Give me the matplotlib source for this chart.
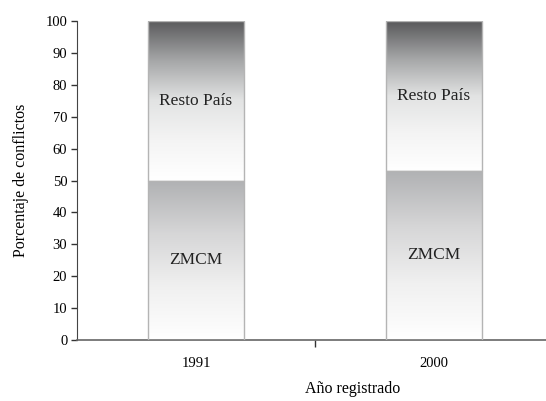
import numpy as np
import matplotlib.pyplot as plt
from matplotlib.colors import LinearSegmentedColormap

years = ['1991', '2000']
zmcm = [50, 53]
resto = [50, 47]

plt.rcParams['font.family'] = ['Liberation Serif', 'DejaVu Serif']

fig = plt.figure(figsize=(5.46, 4.01), dpi=100)
# axes spans a bit past the right edge, like the original crop
ax = fig.add_axes([77 / 546, 1 - 340 / 401, 476 / 546, 319 / 401])

x = np.arange(len(years))
bw = 0.40
b1 = ax.bar(x, zmcm, width=bw, facecolor='none', edgecolor='#b4b4b4', linewidth=1, zorder=3)
b2 = ax.bar(x, resto, width=bw, bottom=zmcm, facecolor='none', edgecolor='#b4b4b4', linewidth=1, zorder=3)

cm_low = LinearSegmentedColormap.from_list('low', ['#ffffff', '#f0f0f0', '#d6d6d7', '#b0b1b3'])
cm_high = LinearSegmentedColormap.from_list('high', ['#ffffff', '#f4f4f4', '#e2e3e3', '#a5a6a7', '#59595b'])
grad = np.linspace(0, 1, 256).reshape(-1, 1)

for bars, cmap in [(b1, cm_low), (b2, cm_high)]:
    for p in bars:
        x0, y0 = p.get_x(), p.get_y()
        w, h = p.get_width(), p.get_height()
        im = ax.imshow(grad, cmap=cmap, aspect='auto', origin='lower',
                       extent=[x0, x0 + w, y0, y0 + h], zorder=2)
        im.set_clip_path(p)

for i in range(len(years)):
    ax.text(x[i], zmcm[i] / 2, 'ZMCM', ha='center', va='center', fontsize=12.5, color='#222222', zorder=4)
    ax.text(x[i], zmcm[i] + resto[i] / 2, 'Resto País', ha='center', va='center', fontsize=12.5,
            color='#222222', zorder=4)

ax.set_xlim(-0.5, 1.5)
ax.set_ylim(0, 100)
ax.set_yticks(range(0, 101, 10))
ax.set_xticks(x)
ax.set_xticklabels(years, fontsize=10.5)
ax.set_xticks([0.5], minor=True)
ax.tick_params(axis='x', which='major', length=0, pad=12)
ax.tick_params(axis='x', which='minor', length=5, width=1, color='#333333')
ax.tick_params(axis='y', length=4, width=1, color='#333333', labelsize=10.5, pad=3)

for s in ['top', 'right']:
    ax.spines[s].set_visible(False)
ax.spines['left'].set_color('#444444')
ax.spines['bottom'].set_color('#666666')
ax.spines['bottom'].set_linewidth(1.2)

ax.set_ylabel('Porcentaje de conflictos', fontsize=11.5, labelpad=12)
ax.set_xlabel('Año registrado', fontsize=11.5)
ax.xaxis.set_label_coords(0.578, -0.13)

fig.savefig('out.png', dpi=100)
